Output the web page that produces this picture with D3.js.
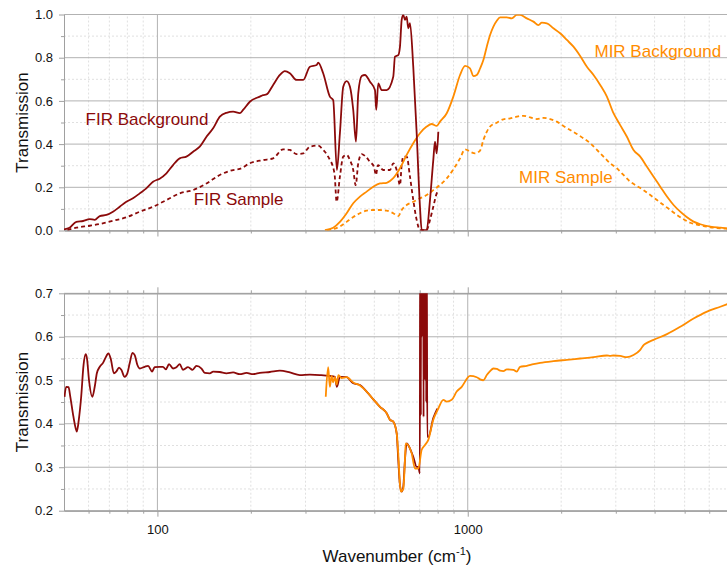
<!DOCTYPE html>
<html lang="en">
<head>
<meta charset="utf-8"/>
<title>FIR / MIR Transmission</title>
<script src="https://cdn.jsdelivr.net/npm/d3@7"></script>
<style>
body { margin: 0; background: #fff; }
svg { font-family: "Liberation Sans", Arial, sans-serif; }
.grid-major { stroke: #b2b2b2; stroke-width: 1; }
.grid-minor { stroke: #e0e0e0; stroke-width: 1; stroke-dasharray: 2,2; }
.axis path, .axis line { stroke: #a0a0a0; }
.axis text { font-size: 13px; fill: #111; }
.spec { fill: none; stroke-width: 1.8; stroke-linejoin: round; }
.note { font-size: 17px; }
.title { font-size: 17px; fill: #111; }
</style>
</head>
<body>
<svg id="chart" width="727" height="568"></svg>
<script>
// ---- data (wavenumber cm-1, transmission) ----
var xMajor = [100, 1000];
var xMinor = [60, 70, 80, 90, 200, 300, 400, 500, 600, 700, 800, 900, 2000, 3000, 4000, 5000, 6000];
var topMajor = [0, 0.2, 0.4, 0.6, 0.8, 1.0];
var topMinor = [0.1, 0.3, 0.5, 0.7, 0.9];
var botMajor = [0.2, 0.3, 0.4, 0.5, 0.6, 0.7];
var botMinor = [0.25, 0.35, 0.45, 0.55, 0.65];

var firBackground = [[50,0.005],[52.1,0.013],[54.8,0.04],[57.6,0.044],[60.5,0.053],[62.8,0.049],[65.2,0.067],[68.5,0.072],[71.9,0.087],[75.6,0.11],[79.4,0.133],[83.4,0.149],[87.7,0.172],[92.1,0.195],[96.8,0.226],[101.7,0.24],[106.9,0.265],[112.3,0.303],[118,0.334],[124,0.342],[130.3,0.365],[136.9,0.388],[143.9,0.434],[151.2,0.473],[158.9,0.527],[167,0.545],[175.4,0.55],[184.3,0.543],[188.8,0.558],[198.5,0.596],[213.8,0.62],[219.1,0.627],[224.7,0.63],[236,0.674],[248,0.72],[257.4,0.738],[267.2,0.728],[280.8,0.697],[295,0.697],[310,0.758],[325.9,0.766],[329.6,0.777],[342.1,0.728],[359.5,0.62],[368.5,0.604],[378.7,0.28],[387.3,0.45],[397,0.666],[407.2,0.692],[417.3,0.666],[427.6,0.558],[436.3,0.411],[443.8,0.635],[455.2,0.715],[466.5,0.72],[484.1,0.689],[502.3,0.65],[507.2,0.558],[514.8,0.681],[528,0.65],[548,0.65],[575.4,0.712],[582.8,0.805],[597.2,0.812],[604.8,0.851],[612.5,0.975],[619.8,0.998],[627.6,0.975],[635.6,0.99],[643.2,0.936],[651.4,0.96],[667.5,0.758],[684.6,0.45],[701.5,0.11],[710.5,0.002],[737.3,0.002],[755.7,0.141],[774.4,0.326],[784.3,0.411],[794.3,0.357],[803.9,0.457]];

var firSample = [[51.3,0.002],[54.8,0.013],[60.5,0.022],[65.2,0.03],[71.9,0.045],[79.4,0.061],[87.7,0.087],[96.8,0.11],[106.9,0.141],[118,0.172],[130.3,0.187],[143.9,0.218],[158.9,0.257],[175.4,0.28],[184.3,0.285],[198.5,0.311],[219.1,0.326],[236,0.334],[254.2,0.376],[267.2,0.373],[280.8,0.354],[295,0.357],[310,0.388],[329.6,0.393],[342.1,0.373],[355,0.342],[372,0.265],[378,0.133],[387.3,0.249],[397,0.342],[407.2,0.35],[417.3,0.326],[427.6,0.28],[435.3,0.21],[443.8,0.311],[455.2,0.354],[466.5,0.345],[484.1,0.318],[498.7,0.295],[506,0.257],[513.6,0.303],[534.3,0.28],[561.6,0.28],[575.4,0.311],[590.2,0.28],[604.8,0.21],[612.5,0.303],[619.8,0.342],[635.6,0.342],[651.4,0.249],[667.5,0.141],[684.6,0.049],[701.5,0.002],[737.3,0.002],[755.7,0.049],[774.4,0.11],[794.3,0.172],[803.9,0.187]];

var mirBackground = [[346.5,0.002],[368.5,0.013],[387.3,0.04],[407.2,0.08],[427.6,0.126],[449.4,0.157],[472.3,0.18],[496.1,0.203],[521.4,0.218],[548,0.221],[575.4,0.242],[604.8,0.288],[635.6,0.35],[667.5,0.404],[701.5,0.45],[737.3,0.481],[765.3,0.493],[794.3,0.484],[814,0.504],[855.7,0.543],[898.5,0.62],[944.5,0.72],[980.2,0.762],[1017,0.751],[1042.5,0.715],[1069,0.72],[1095.8,0.75],[1122.9,0.789],[1151.7,0.851],[1180.2,0.905],[1209.6,0.944],[1240.4,0.971],[1271.3,0.987],[1336,0.987],[1386.6,0.982],[1439.2,0.998],[1474.8,0.998],[1550.1,0.982],[1628,0.967],[1689.5,0.951],[1732.8,0.962],[1798.2,0.959],[1888.6,0.936],[1985,0.913],[2086.6,0.882],[2191,0.851],[2303,0.808],[2421,0.758],[2543,0.72],[2672,0.674],[2808,0.62],[2949,0.543],[3099,0.488],[3258,0.434],[3421,0.373],[3596,0.342],[3780,0.295],[3971,0.249],[4173,0.203],[4385,0.157],[4605,0.118],[4840,0.087],[5088,0.061],[5342,0.041],[5615,0.029],[6048,0.018],[6514,0.013],[6862,0.01]];

var mirSample = [[352,0.002],[387.3,0.018],[407.2,0.04],[427.6,0.062],[449.4,0.08],[472.3,0.092],[496.1,0.095],[521.4,0.095],[548,0.092],[575.4,0.08],[597.2,0.067],[612.5,0.095],[635.6,0.118],[667.5,0.133],[701.5,0.149],[737.3,0.164],[774.4,0.187],[814,0.211],[855.7,0.241],[898.5,0.283],[944.5,0.334],[980.2,0.376],[1017,0.365],[1055.6,0.357],[1095.8,0.37],[1122.9,0.419],[1151.7,0.457],[1180.2,0.481],[1240.4,0.499],[1302.7,0.515],[1369.4,0.519],[1439.2,0.527],[1511.6,0.531],[1588.7,0.524],[1669.7,0.516],[1753.6,0.521],[1843,0.516],[1937,0.504],[2034.5,0.484],[2138,0.465],[2247,0.447],[2360,0.427],[2481,0.404],[2608,0.373],[2738,0.342],[2877,0.311],[3024,0.288],[3176,0.257],[3338,0.226],[3509,0.206],[3686,0.187],[3875,0.164],[4072,0.141],[4276,0.118],[4494,0.095],[4723,0.072],[4961,0.052],[5213,0.036],[5615,0.024],[6048,0.015],[6514,0.01],[6862,0.008]];

var firRatio = [[50.2,0.462],[50.8,0.485],[51.7,0.484],[52.4,0.462],[53.4,0.424],[54.5,0.39],[55,0.382],[55.8,0.409],[56.8,0.462],[57.8,0.535],[58.7,0.56],[59.3,0.55],[60.2,0.5],[61.7,0.462],[62.8,0.485],[63.8,0.516],[65.2,0.531],[66.8,0.54],[68.5,0.556],[69.5,0.562],[70.7,0.55],[72.4,0.516],[73.7,0.52],[75.2,0.529],[76.5,0.524],[78.4,0.508],[80,0.516],[81.4,0.539],[83.1,0.563],[84.5,0.558],[86.2,0.535],[87.7,0.527],[91,0.531],[93.3,0.533],[96.1,0.52],[98,0.53],[101.7,0.531],[104.2,0.531],[106.4,0.525],[109,0.537],[112.3,0.527],[115.2,0.53],[118,0.537],[120.9,0.524],[125.5,0.53],[129.8,0.524],[133.6,0.533],[138.7,0.527],[142.1,0.517],[147.5,0.516],[151.2,0.52],[158.9,0.519],[167,0.516],[175.4,0.518],[184.3,0.514],[193.7,0.517],[203.4,0.514],[213.8,0.517],[230.3,0.519],[248,0.522],[267.2,0.518],[287.7,0.512],[310,0.513],[333.8,0.512],[359.5,0.51],[373.2,0.508],[378.7,0.485],[387.3,0.508],[407.2,0.507],[427.6,0.493],[449.4,0.489],[472.3,0.474],[496.1,0.456],[521.4,0.439],[548,0.424],[561.6,0.409],[575.4,0.405],[590.2,0.378],[597.2,0.317],[604.8,0.259],[612.5,0.244],[619.8,0.255],[627.6,0.317],[635.6,0.355],[651.4,0.343],[667.5,0.324],[684.6,0.301],[692.9,0.301],[701,0.286],
  [702,0.8],[705,0.8],[706,0.42],[707,0.8],[710,0.8],[711,0.6],[712,0.8],[715,0.8],[716,0.62],[717,0.8],[719,0.8],[720.5,0.416],[722,0.8],
  [729,0.8],[730,0.5],[731,0.8],[734,0.8],[735,0.45],[736,0.8],[738,0.8],[740.7,0.37],[746.3,0.37],[774.4,0.413],[798,0.435]];

var mirRatio = [[348.7,0.462],[355,0.53],[359.5,0.485],[364,0.51],[368.5,0.495],[373,0.508],[378,0.49],[383,0.512],[392,0.505],[407.2,0.507],[427.6,0.495],[449.4,0.488],[472.3,0.474],[496.1,0.456],[521.4,0.439],[548,0.424],[561.6,0.409],[575.4,0.405],[590.2,0.378],[597.2,0.33],[604.8,0.26],[609.3,0.244],[619.8,0.25],[627.6,0.317],[631,0.355],[659.7,0.332],[676.1,0.297],[692.9,0.297],[710.5,0.34],[728.2,0.351],[746.3,0.363],[774.4,0.409],[803.9,0.435],[834.3,0.455],[855.7,0.451],[888,0.455],[921.4,0.474],[956.3,0.485],[1017,0.51],[1069,0.507],[1095.8,0.502],[1122.9,0.5],[1151.7,0.512],[1180.2,0.521],[1209.6,0.527],[1240.4,0.526],[1271.3,0.522],[1302.7,0.521],[1336,0.525],[1403.3,0.524],[1439.2,0.52],[1474.8,0.531],[1550.1,0.533],[1628,0.537],[1711,0.54],[1888.6,0.544],[2086.6,0.547],[2303,0.55],[2543,0.553],[2808,0.557],[2877,0.556],[2949,0.557],[3099,0.556],[3258,0.553],[3421,0.558],[3596,0.57],[3686,0.581],[3780,0.586],[3971,0.593],[4385,0.606],[4840,0.623],[5342,0.642],[5902,0.658],[6514,0.669],[6862,0.675]];

var notes = [
  {text: "FIR Background", wn: 58.7, t: 0.488, color: "#8b0a0a"},
  {text: "FIR Sample", wn: 131, t: 0.118, color: "#8b0a0a"},
  {text: "MIR Background", wn: 2561, t: 0.805, color: "#ff8c00"},
  {text: "MIR Sample", wn: 1464, t: 0.2185, color: "#ff8c00"}
];

var red = "#8b0a0a", orange = "#ff8c00";

// ---- layout ----
var svg = d3.select("#chart");
var left = 64, right = 727;

var x = d3.scaleLog()
    .domain([50, 7000])
    .range([64, 730]);

var yTop = d3.scaleLinear().domain([0, 1]).range([230.5, 14.5]);
var yBot = d3.scaleLinear().domain([0.2, 0.7]).range([510.7, 293.3]);

function panel(id, y, major, minor, labels, topTicks) {
  var g = svg.append("g").attr("class", id);
  var y0 = y.range()[0], y1 = y.range()[1];

  // clip for the spectra
  svg.append("clipPath").attr("id", "clip-" + id)
    .append("rect")
    .attr("x", left).attr("y", y1)
    .attr("width", right - left).attr("height", y0 - y1);

  // minor grid
  g.selectAll(".hm").data(minor).enter().append("line")
    .attr("class", "grid-minor")
    .attr("x1", left).attr("x2", right)
    .attr("y1", function(d) { return y(d); }).attr("y2", function(d) { return y(d); });
  g.selectAll(".vm").data(xMinor).enter().append("line")
    .attr("class", "grid-minor")
    .attr("y1", y0).attr("y2", y1)
    .attr("x1", function(d) { return x(d); }).attr("x2", function(d) { return x(d); });

  // major grid
  g.selectAll(".hM").data(major).enter().append("line")
    .attr("class", "grid-major")
    .attr("x1", left).attr("x2", right)
    .attr("y1", function(d) { return y(d); }).attr("y2", function(d) { return y(d); });
  g.selectAll(".vM").data(xMajor).enter().append("line")
    .attr("class", "grid-major")
    .attr("y1", y0).attr("y2", y1)
    .attr("x1", function(d) { return x(d); }).attr("x2", function(d) { return x(d); });

  // left axis
  g.append("g").attr("class", "axis")
    .attr("transform", "translate(" + left + ",0)")
    .call(d3.axisLeft(y).tickValues(minor).tickSize(3).tickSizeOuter(0).tickFormat(""));
  g.append("g").attr("class", "axis")
    .attr("transform", "translate(" + left + ",0)")
    .call(d3.axisLeft(y).tickValues(major).tickSize(5).tickSizeOuter(0).tickPadding(6).tickFormat(d3.format(".1f")));

  // bottom axis
  g.append("g").attr("class", "axis")
    .attr("transform", "translate(0," + y0 + ")")
    .call(d3.axisBottom(x).tickValues(xMinor).tickSize(3).tickSizeOuter(0).tickFormat(""));
  g.append("g").attr("class", "axis")
    .attr("transform", "translate(0," + y0 + ")")
    .call(d3.axisBottom(x).tickValues(xMajor).tickSize(6).tickSizeOuter(0).tickPadding(8)
      .tickFormat(labels ? d3.format("d") : ""));

  if (topTicks) {
    g.append("g").attr("class", "axis")
      .attr("transform", "translate(0," + y1 + ")")
      .call(d3.axisTop(x).tickValues(xMinor).tickSize(3).tickSizeOuter(0).tickFormat(""));
    g.append("g").attr("class", "axis")
      .attr("transform", "translate(0," + y1 + ")")
      .call(d3.axisTop(x).tickValues(xMajor).tickSize(6).tickSizeOuter(0).tickFormat(""));
  }

  // y title
  g.append("text")
    .attr("class", "title")
    .attr("text-anchor", "middle")
    .attr("transform", "translate(27.5," + (y0 + y1) / 2 + ") rotate(-90)")
    .text("Transmission");

  return g.append("g").attr("clip-path", "url(#clip-" + id + ")");
}

function spectrum(g, y, data, color, dashed) {
  var line = d3.line()
    .x(function(d) { return x(d[0]); })
    .y(function(d) { return y(d[1]); })
    .curve(d3.curveMonotoneX);
  g.append("path")
    .datum(data)
    .attr("class", "spec")
    .attr("stroke", color)
    .attr("stroke-dasharray", dashed ? "4,3" : null)
    .attr("d", line);
}

// top panel: raw spectra
var topPlot = panel("top", yTop, topMajor, topMinor, false, false);
spectrum(topPlot, yTop, firSample, red, true);
spectrum(topPlot, yTop, mirSample, orange, true);
spectrum(topPlot, yTop, mirBackground, orange, false);
spectrum(topPlot, yTop, firBackground, red, false);

svg.selectAll(".note").data(notes).enter().append("text")
  .attr("class", "note")
  .attr("x", function(d) { return x(d.wn); })
  .attr("y", function(d) { return yTop(d.t); })
  .attr("fill", function(d) { return d.color; })
  .text(function(d) { return d.text; });

// bottom panel: ratio
var botPlot = panel("bot", yBot, botMajor, botMinor, true, true);
spectrum(botPlot, yBot, firRatio, red, false);
spectrum(botPlot, yBot, mirRatio, orange, false);

// x title
var xt = svg.append("text")
  .attr("class", "title")
  .attr("text-anchor", "middle")
  .attr("x", 397)
  .attr("y", 562);
xt.append("tspan").text("Wavenumber (cm");
xt.append("tspan").attr("font-size", "11px").attr("dy", -7).text("-1");
xt.append("tspan").attr("dy", 7).text(")");
</script>
</body>
</html>
